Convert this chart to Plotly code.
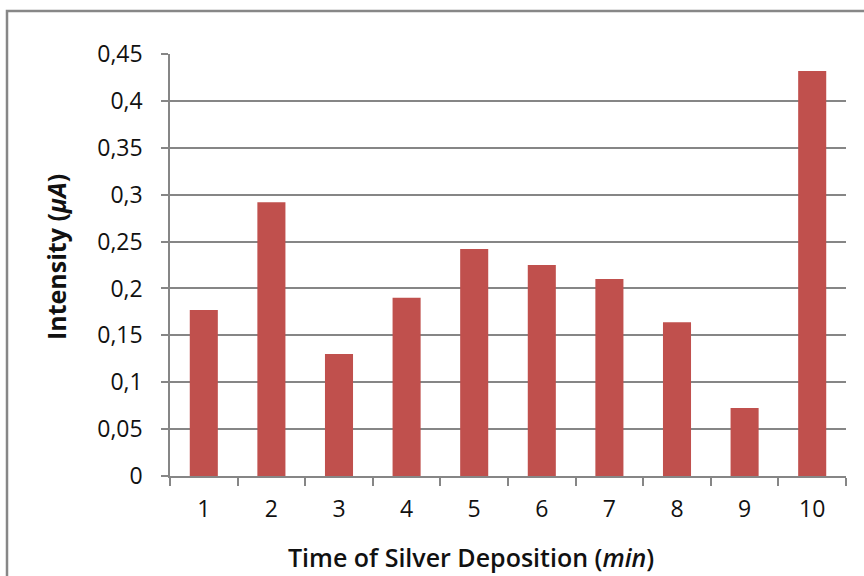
import plotly.graph_objects as go

categories = ["1", "2", "3", "4", "5", "6", "7", "8", "9", "10"]
intensity = [0.177, 0.292, 0.130, 0.190, 0.242, 0.225, 0.210, 0.164, 0.0725, 0.432]
y_tick_vals = [0, 0.05, 0.1, 0.15, 0.2, 0.25, 0.3, 0.35, 0.4, 0.45]
y_tick_text = ["0", "0,05", "0,1", "0,15", "0,2", "0,25", "0,3", "0,35", "0,4", "0,45"]

FONT = "Open Sans"
GRID = "#868686"
L, R, T, B = 170, 18, 54, 100
PW, PH = 864 - L - R, 576 - T - B

def px_x(x):
    return (x - L) / PW

def px_y(y):
    return (576 - B - y) / PH

fig = go.Figure(go.Bar(x=categories, y=intensity, marker=dict(color="#C0504D", line=dict(width=0))))

fig.update_layout(
    width=864, height=576,
    margin=dict(l=L, r=R, t=T, b=B),
    paper_bgcolor="white", plot_bgcolor="white",
    bargap=0.585,
    showlegend=False,
    font=dict(family=FONT, size=20, color="#111111"),
    xaxis=dict(
        type="category", range=[-0.5, 9.5],
        tickson="boundaries", ticks="outside", ticklen=8, tickcolor=GRID, tickwidth=1.5,
        showline=True, linecolor=GRID, linewidth=1.5, showgrid=False,
        tickfont=dict(size=23), ticklabelstandoff=12,
    ),
    yaxis=dict(
        range=[0, 0.45], tickvals=y_tick_vals, ticktext=y_tick_text,
        ticks="outside", ticklen=7, tickcolor=GRID, tickwidth=1.5,
        showline=True, linecolor=GRID, linewidth=1.5,
        showgrid=True, gridcolor=GRID, gridwidth=1.5, zeroline=False,
        tickfont=dict(size=23), ticklabelstandoff=14,
    ),
    annotations=[
        dict(text="Time of Silver Deposition (<i>min</i>)", xref="paper", yref="paper",
             x=px_x(471), y=px_y(557), xanchor="center", yanchor="middle", showarrow=False,
             font=dict(size=25, weight=600)),
        dict(text="<b>Intensity (<i>μA</i>)</b>", xref="paper", yref="paper",
             x=px_x(56), y=px_y(257), xanchor="center", yanchor="middle", showarrow=False,
             textangle=-90, font=dict(size=25)),
    ],
    shapes=[dict(type="rect", xref="paper", yref="paper",
                 x0=px_x(7), x1=px_x(880),
                 y0=px_y(600), y1=px_y(11),
                 line=dict(color="#878787", width=2.5), layer="below")],
)

fig.write_html("out.html")
